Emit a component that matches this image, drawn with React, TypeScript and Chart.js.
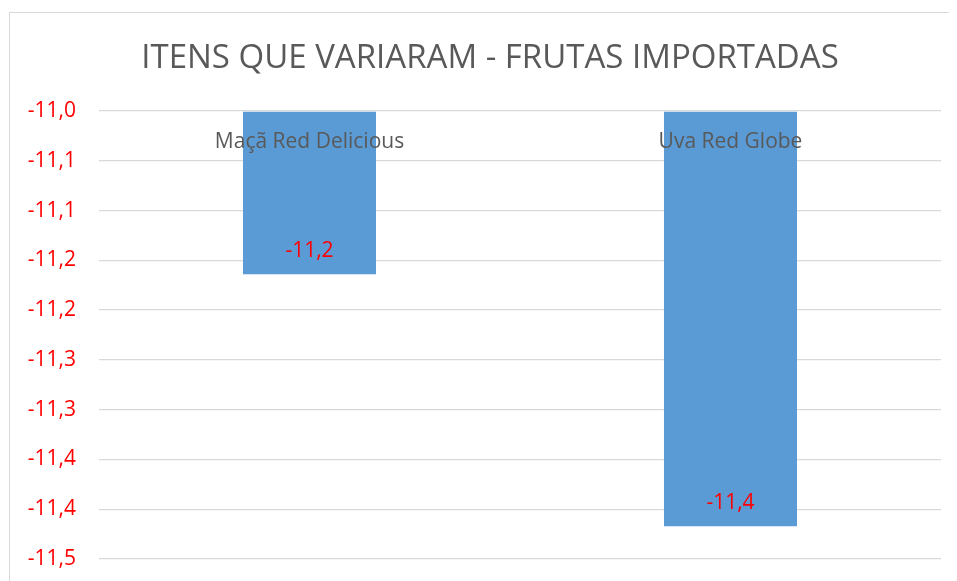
import React, { useEffect, useRef } from "react";
import { Chart, registerables } from "chart.js";

Chart.register(...registerables);

const chartTitle = "ITENS QUE VARIARAM - FRUTAS IMPORTADAS";
const categories = ["Maçã Red Delicious", "Uva Red Globe"];
const values = [-11.164, -11.417];
const valueLabels = ["-11,2", "-11,4"];
const yTickValues = [-11.0, -11.05, -11.1, -11.15, -11.2, -11.25, -11.3, -11.35, -11.4, -11.45];
const yTickLabels = ["-11,0", "-11,1", "-11,1", "-11,2", "-11,2", "-11,3", "-11,3", "-11,4", "-11,4", "-11,5"];

const FONT = '"Open Sans", "Liberation Sans", sans-serif';

const labelPlugin = {
  id: "barLabels",
  afterDatasetsDraw(chart: any) {
    const { ctx, chartArea } = chart;
    const meta = chart.getDatasetMeta(0);
    ctx.save();
    ctx.font = `21px ${FONT}`;
    ctx.textAlign = "center";
    ctx.textBaseline = "middle";
    meta.data.forEach((bar: any, i: number) => {
      ctx.fillStyle = "#595959";
      ctx.fillText(categories[i], bar.x, chartArea.top + 31);
      ctx.fillStyle = "#FF0000";
      ctx.fillText(valueLabels[i], bar.x, bar.y - 23.5);
    });
    ctx.restore();
  },
};

export default function App() {
  const canvasRef = useRef<HTMLCanvasElement>(null);

  useEffect(() => {
    document.documentElement.style.overflow = "hidden";
    const canvas = canvasRef.current;
    if (!canvas) return;
    const chart = new Chart(canvas, {
      type: "bar",
      data: {
        labels: categories,
        datasets: [
          {
            data: values,
            base: -11,
            backgroundColor: "#5B9BD5",
            borderWidth: 0,
            barPercentage: 1,
            categoryPercentage: 0.316,
          } as any,
        ],
      },
      options: {
        animation: false,
        responsive: false,
        maintainAspectRatio: false,
        layout: { padding: { left: 0, right: 0, top: 0, bottom: 54 } },
        plugins: {
          legend: { display: false },
          tooltip: { enabled: false },
          title: {
            display: true,
            text: chartTitle,
            color: "#595959",
            font: { family: FONT, size: 33, weight: "normal" as any, lineHeight: 1.2 },
            padding: { top: 26, bottom: 32.4 },
          },
        },
        scales: {
          x: {
            display: false,
          },
          y: {
            position: "left",
            min: -11.45,
            max: -11.0,
            border: { display: false },
            grid: { color: "#D9D9D9", lineWidth: 1.3, drawTicks: false },
            afterBuildTicks(scale: any) {
              scale.ticks = yTickValues.map((v) => ({ value: v }));
            },
            afterFit(scale: any) {
              scale.width = 89;
            },
            ticks: {
              color: "#FF0000",
              padding: 23,
              font: { family: FONT, size: 21 },
              callback: (value: any) => {
                const idx = yTickValues.findIndex((v) => Math.abs(v - Number(value)) < 1e-6);
                return idx >= 0 ? yTickLabels[idx] : "";
              },
            },
          },
          yRight: {
            position: "right",
            display: true,
            border: { display: false },
            grid: { display: false, drawTicks: false },
            ticks: { display: false },
            afterFit(scale: any) {
              scale.width = 29;
            },
          },
        },
      } as any,
      plugins: [labelPlugin],
    });
    return () => chart.destroy();
  }, []);

  return (
    <div style={{ width: 949, height: 573, overflow: "hidden" }}>
      <div
        style={{
          marginLeft: 1,
          marginTop: 4,
          border: "1px solid #D9D9D9",
          width: 960,
          height: 600,
        }}
      >
        <canvas ref={canvasRef} width={960} height={600} style={{ display: "block", width: 960, height: 600 }} />
      </div>
    </div>
  );
}
